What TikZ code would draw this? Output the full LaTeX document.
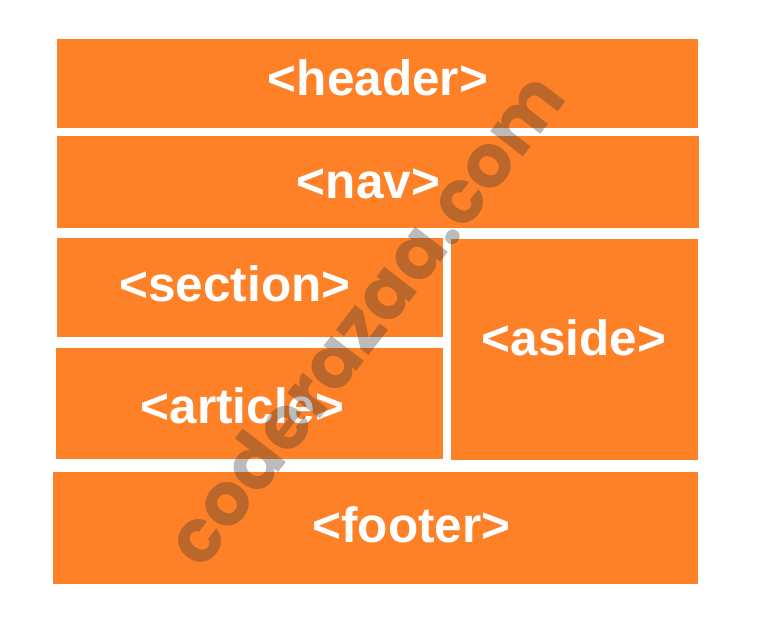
\documentclass[tikz,border=0pt]{standalone}
\usepackage{fontspec}
\setmainfont{Liberation Sans}
\newfontfamily\wmfont{Poppins}
\definecolor{boxorange}{HTML}{FE8128}
\begin{document}
\begin{tikzpicture}[x=1pt,y=-1pt,
  block/.style={fill=boxorange,draw=none},
  lbl/.style={text=white,inner sep=0pt,font=\fontsize{49.5}{49.5}\bfseries\selectfont},
  wm/.style={text=black!80,opacity=0.33,inner sep=0pt,font=\wmfont\fontsize{74}{74}\selectfont\bfseries}]
\useasboundingbox (0,0) rectangle (762,625);
\fill[white] (0,0) rectangle (762,625);
\path[block] (57,39) rectangle (698,128) coordinate (hdr);
\path[block] (57,136) rectangle (699,228) coordinate (nv);
\path[block] (57,238) rectangle (443,337) coordinate (sec);
\path[block] (56,348) rectangle (443,459) coordinate (art);
\path[block] (451,239) rectangle (698,460) coordinate (asd);
\path[block] (53,472) rectangle (698,584) coordinate (ftr);
\node[lbl] (theader) at (378,77.5) {<header>};
\node[lbl] (tnav) at (368.5,183.5) {<nav>};
\node[lbl] (tsection) at (235,284) {<section>};
\node[lbl] (tarticle) at (242.5,406) {<article>};
\node[lbl] (taside) at (574,337.5) {<aside>};
\node[lbl] (tfooter) at (411.5,525) {<footer>};
\node[wm,rotate=52.3] (wmark) at (364,318) {coderazaa.com};
\end{tikzpicture}
\end{document}
